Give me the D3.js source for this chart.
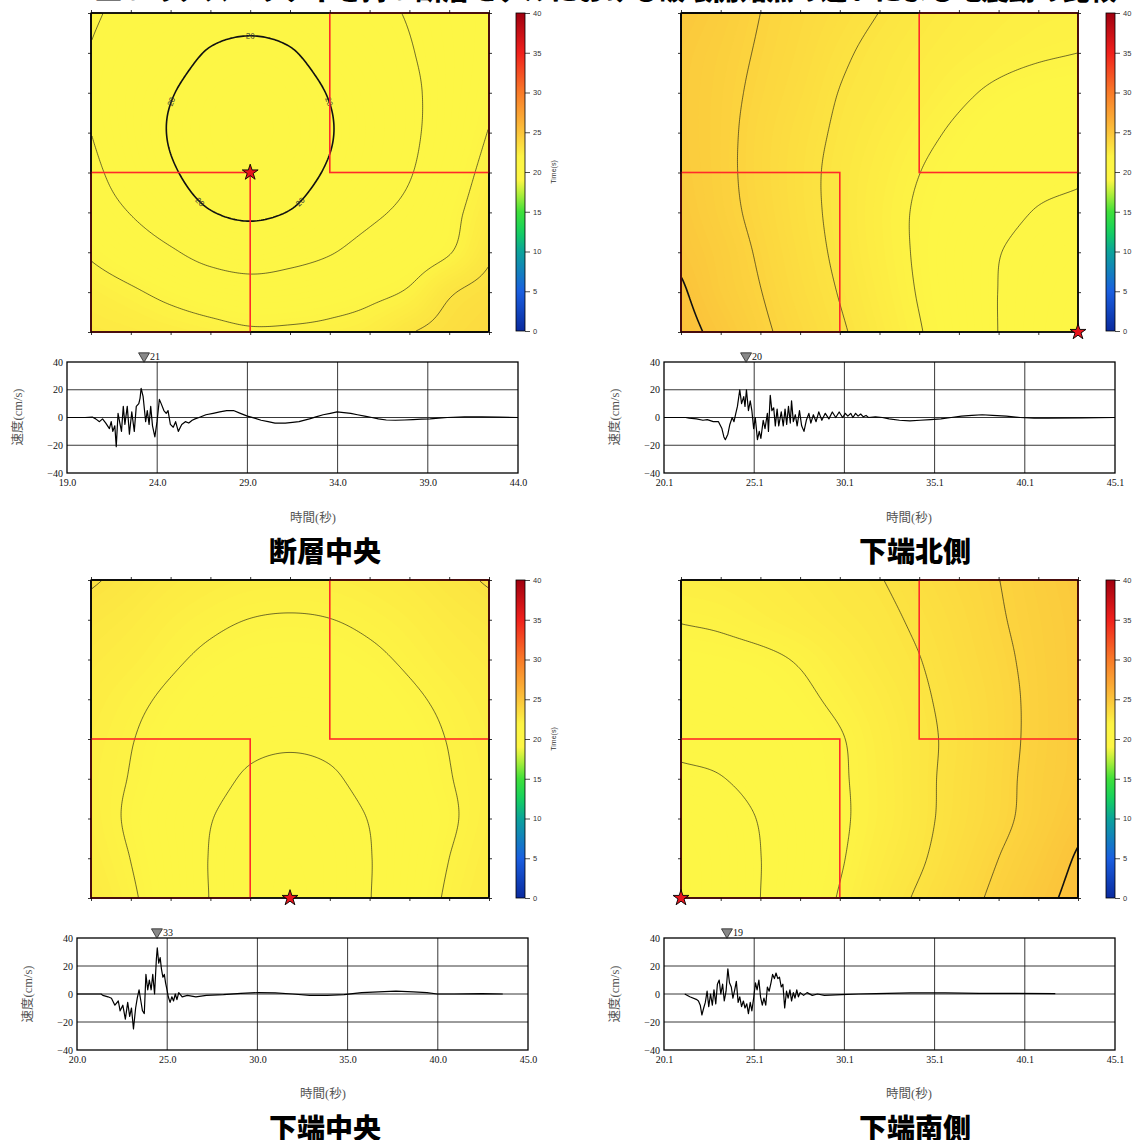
<!DOCTYPE html>
<html><head><meta charset="utf-8">
<script src="https://cdn.jsdelivr.net/npm/d3@7"></script>
<style>body{margin:0;background:#fff}svg{display:block}</style>
</head><body>
<script>
// ---------------- DATA ----------------
const pageTitle = "二つのアスペリティを持つ断層モデルにおける破壊開始点の違いによる地震動の比較";
const panelTitles = ["断層中央", "下端北側", "下端中央", "下端南側"];
const contourLevels = [20, 21, 22, 23, 24, 25];
const majorLevels = [20, 25];
const colorbarTicks = [0, 5, 10, 15, 20, 25, 30, 35, 40];
const colorStops = [0, 5, 10, 12.5, 15, 17.5, 19, 21.8, 25, 30, 35, 40];
const colorHex = ["#0a2a9e","#1a5fe0","#0ba39a","#14d15e","#3fe03a","#bdf03a","#fdf645","#fdf645","#fbc43b","#f97a28","#f0201c","#a00010"];
const hypocenters = [[4, 4], [10, 0], [5, 0], [0, 0]];       // fault grid units (x 0..10, y 0..8)
const asperities = [[0, 0, 4, 4], [6, 4, 10, 8]];
const labelledLevel = [20, null, null, null];

// rupture-time grids, rows from top (y=8) to bottom (y=0), columns x=0..10
const timeCenter = [
 [21.1, 20.8, 20.75, 20.45, 20.33, 20.45, 20.75, 20.85, 21.05, 21.4, 21.7],
 [20.97, 20.6, 20.38, 19.93, 19.78, 19.93, 20.38, 20.65, 20.95, 21.35, 21.75],
 [20.9, 20.45, 20.05, 19.6, 19.45, 19.6, 20.05, 20.5, 20.85, 21.35, 21.85],
 [21.0, 20.45, 19.95, 19.5, 19.35, 19.5, 19.95, 20.45, 20.85, 21.4, 22.03],
 [21.2, 20.6, 20.1, 19.65, 19.49, 19.65, 20.1, 20.55, 20.95, 21.55, 22.25],
 [21.45, 20.97, 20.48, 20.03, 19.88, 20.03, 20.48, 20.85, 21.2, 21.75, 22.5],
 [21.9, 21.5, 21.1, 20.7, 20.52, 20.7, 20.95, 21.29, 21.55, 21.95, 22.85],
 [22.35, 22.1, 21.8, 21.55, 21.4, 21.45, 21.6, 21.8, 22.1, 22.9, 23.3],
 [22.65, 22.55, 22.4, 22.25, 22.1, 22.12, 22.2, 22.4, 22.95, 23.3, 23.6]
];
const timeLowerNorth = [
 [24.75, 24.4, 24.0, 23.65, 23.32, 22.99, 22.7, 22.5, 22.35, 22.25, 22.2],
 [24.6, 24.28, 23.92, 23.55, 23.13, 22.8, 22.55, 22.35, 22.2, 22.08, 22.0],
 [24.55, 24.22, 23.83, 23.43, 22.98, 22.69, 22.4, 22.12, 21.88, 21.7, 21.6],
 [24.55, 24.2, 23.74, 23.3, 22.88, 22.53, 22.19, 21.88, 21.6, 21.4, 21.3],
 [24.6, 24.2, 23.72, 23.24, 22.8, 22.4, 22.01, 21.7, 21.45, 21.25, 21.12],
 [24.7, 24.25, 23.78, 23.26, 22.8, 22.33, 21.91, 21.59, 21.26, 20.95, 20.8],
 [24.85, 24.4, 23.9, 23.35, 22.85, 22.36, 21.9, 21.45, 21.03, 20.7, 20.5],
 [25.1, 24.5, 24.02, 23.47, 22.96, 22.45, 21.95, 21.47, 20.99, 20.6, 20.35],
 [25.3, 24.75, 24.17, 23.65, 23.11, 22.58, 22.05, 21.52, 20.99, 20.55, 20.3]
];
const timeLowerCenter = [
 [23.08, 22.8, 22.55, 22.38, 22.28, 22.25, 22.28, 22.38, 22.55, 22.8, 23.07],
 [22.75, 22.55, 22.3, 22.12, 21.99, 21.95, 21.99, 22.12, 22.3, 22.55, 22.75],
 [22.55, 22.35, 22.1, 21.87, 21.72, 21.68, 21.72, 21.87, 22.1, 22.35, 22.55],
 [22.4, 22.15, 21.88, 21.6, 21.43, 21.38, 21.43, 21.6, 21.88, 22.15, 22.4],
 [22.3, 22.03, 21.7, 21.4, 21.18, 21.1, 21.18, 21.4, 21.7, 22.03, 22.3],
 [22.25, 21.97, 21.6, 21.25, 20.9, 20.8, 20.9, 21.25, 21.6, 21.97, 22.25],
 [22.3, 21.9, 21.45, 21.03, 20.65, 20.5, 20.65, 21.03, 21.45, 21.9, 22.3],
 [22.4, 21.99, 21.5, 20.97, 20.55, 20.4, 20.55, 20.97, 21.5, 22.0, 22.4],
 [22.55, 22.1, 21.55, 20.98, 20.55, 20.35, 20.55, 20.98, 21.55, 22.1, 22.5]
];
const timeLowerSouth = [
 [22.3, 22.35, 22.45, 22.6, 22.78, 22.97, 23.3, 23.65, 23.99, 24.35, 24.7],
 [22.03, 22.1, 22.25, 22.42, 22.62, 22.82, 23.13, 23.51, 23.92, 24.28, 24.62],
 [21.72, 21.78, 21.87, 22.06, 22.37, 22.68, 22.98, 23.4, 23.82, 24.23, 24.6],
 [21.45, 21.52, 21.65, 21.85, 22.15, 22.5, 22.87, 23.28, 23.74, 24.2, 24.6],
 [21.18, 21.25, 21.42, 21.67, 21.95, 22.37, 22.8, 23.22, 23.73, 24.2, 24.6],
 [20.85, 20.97, 21.28, 21.6, 21.91, 22.33, 22.8, 23.26, 23.76, 24.25, 24.62],
 [20.4, 20.6, 21.05, 21.46, 21.88, 22.33, 22.8, 23.3, 23.8, 24.3, 24.8],
 [20.15, 20.5, 20.99, 21.45, 21.93, 22.45, 22.9, 23.45, 24.0, 24.5, 25.08],
 [20.1, 20.5, 21.0, 21.53, 22.05, 22.6, 23.11, 23.65, 24.2, 24.72, 25.28]
];

// velocity waveforms [time (s), velocity (cm/s)]
const waveCenter = [[19.0,0],[20.0,0],[20.4,0.3],[20.59,-1],[20.8,-3],[20.97,-1],[21.15,-4],[21.35,-8],[21.45,-3],[21.54,-10],[21.65,-6],[21.73,-21],[21.83,3],[21.93,-4],[22.02,-10],[22.12,8],[22.21,-5],[22.34,8],[22.46,-12],[22.59,4],[22.73,-10],[22.84,8],[22.98,10],[23.05,14],[23.11,21],[23.22,15],[23.36,-3],[23.45,5],[23.55,-5],[23.64,8],[23.74,-6],[23.87,-14],[23.99,-3],[24.12,13],[24.22,10],[24.37,5],[24.5,3],[24.6,5],[24.73,-5],[24.89,-7],[25.02,-3],[25.17,-10],[25.36,-5],[25.56,-3],[25.75,-4],[25.94,-2],[26.1,-1],[26.32,0],[26.7,2],[27.1,3],[27.47,4],[27.85,5],[28.23,5],[28.61,3],[29.0,1],[29.4,-0.5],[29.76,-2],[30.15,-3],[30.53,-4],[31.1,-4],[31.5,-3.5],[31.86,-3],[32.44,-1],[32.8,0.5],[33.2,2],[33.6,3],[33.97,4],[34.35,3.5],[34.73,3],[35.1,2],[35.5,1],[35.9,0],[36.26,-1],[36.7,-1.8],[37.21,-2],[37.7,-1.8],[38.17,-1.5],[38.65,-1.2],[39.13,-1],[39.6,-0.5],[40.08,0],[41.04,0.5],[41.99,0.5],[42.95,0.3],[44.0,0]];
const waveLowerNorth = [[20.1,0],[21.3,0],[21.5,-0.5],[21.9,-1],[22.26,-2],[22.5,-1.5],[22.83,-3],[23.12,-3],[23.31,-8],[23.42,-14],[23.5,-16],[23.64,-12],[23.75,-5],[23.88,0],[23.98,-3],[24.08,3],[24.17,8],[24.3,20],[24.4,10],[24.52,15],[24.59,8],[24.67,20],[24.78,5],[24.88,12],[24.97,5],[25.07,-8],[25.16,0],[25.28,-16],[25.38,-10],[25.47,-15],[25.6,-2],[25.7,-8],[25.83,3],[25.89,-10],[25.99,16],[26.08,5],[26.18,7],[26.27,-6],[26.37,6],[26.46,-6],[26.6,4],[26.71,-6],[26.81,6],[26.9,-5],[27.0,8],[27.1,-4],[27.17,12],[27.27,-3],[27.38,2],[27.48,-6],[27.61,5],[27.73,-6],[27.86,-10],[27.99,-2],[28.13,3],[28.24,-4],[28.38,2],[28.53,-3],[28.68,4],[28.85,-2],[29.04,3],[29.24,-1],[29.43,4],[29.62,0],[29.81,4],[30.0,0],[30.15,3],[30.29,1],[30.45,3],[30.57,0],[30.72,3],[30.86,1],[31.0,2.5],[31.15,0.5],[31.3,1.5],[31.43,0],[31.82,0.5],[32.2,0],[32.58,-1],[33.15,-2],[33.73,-2.5],[34.3,-2],[34.87,-1.5],[35.45,-1],[36.02,0],[36.59,1],[37.17,1.5],[37.74,2],[38.31,1.5],[39.08,1],[39.84,0],[40.61,-0.5],[41.37,-0.5],[43.28,-0.3],[45.1,0]];
const waveLowerCenter = [[20.0,0],[21.34,0],[21.43,-1],[21.72,-2],[21.91,-3],[22.1,-8],[22.29,-5],[22.39,-12],[22.54,-8],[22.68,-18],[22.81,-6],[22.92,-16],[23.02,-10],[23.13,-25],[23.25,-10],[23.34,-3],[23.44,3],[23.54,-5],[23.63,-12],[23.73,-14],[23.82,14],[23.92,3],[24.01,10],[24.11,3],[24.2,14],[24.3,0],[24.4,25],[24.45,33],[24.53,22],[24.61,26],[24.68,18],[24.76,12],[24.84,14],[24.91,8],[24.99,3],[25.06,-2],[25.16,-6],[25.26,-2],[25.35,-5],[25.45,0],[25.54,-4],[25.64,1],[25.83,-2],[26.12,-1],[26.59,-2],[27.17,-1],[28.12,-0.5],[29.08,0.5],[30.03,1],[30.99,0.8],[31.95,0],[32.9,-1],[33.86,-1],[34.81,-0.5],[35.77,1],[36.72,1.5],[37.68,2],[38.64,1.5],[39.4,1],[39.97,0],[40.93,0],[42.46,0.3],[43.6,0]];
const waveLowerSouth = [[21.25,0],[21.53,-2],[21.92,-4],[22.01,-5],[22.11,-8],[22.2,-15],[22.3,-10],[22.39,-6],[22.49,2],[22.58,-9],[22.68,0],[22.78,-8],[22.87,3],[22.97,-7],[23.06,7],[23.16,10],[23.25,0],[23.35,7],[23.44,-5],[23.54,2],[23.64,18],[23.73,8],[23.83,5],[23.92,-3],[24.02,3],[24.11,9],[24.21,-6],[24.3,-2],[24.4,-9],[24.5,-5],[24.59,-10],[24.69,-7],[24.78,-14],[24.88,-6],[24.97,-12],[25.07,-3],[25.17,8],[25.26,3],[25.36,10],[25.45,-2],[25.55,-8],[25.64,-3],[25.74,-8],[25.83,5],[25.93,2],[26.03,8],[26.12,14],[26.22,11],[26.31,15],[26.41,11],[26.5,12],[26.6,5],[26.69,7],[26.79,-10],[26.89,2],[26.98,-3],[27.08,3],[27.17,-5],[27.27,1],[27.36,-3],[27.46,3],[27.55,-2],[27.65,1],[27.84,-1],[28.03,1],[28.32,-1],[28.61,0],[28.99,-1],[29.94,-0.5],[30.9,0],[31.85,0.3],[33.77,0.8],[35.68,0.8],[37.59,0.5],[39.5,0.4],[41.79,0.3]];

const axisStart = [19.0, 20.1, 20.0, 20.1];
const velTicks = [-40, -20, 0, 20, 40];
const peakValues = [21, 20, 33, 19];
const peakTimes = [23.27, 24.65, 24.43, 23.59];

const fields = [timeCenter, timeLowerNorth, timeLowerCenter, timeLowerSouth];
const waves = [waveCenter, waveLowerNorth, waveLowerCenter, waveLowerSouth];

// ---------------- LAYOUT ----------------
const layout = [
  {map:[91,13,398,319],  cb:[516,13,9,318],  seis:[67,362,451,111],  ylab:[18,417],  xlab:[313,522], title:[325,562]},
  {map:[681,13,397,319], cb:[1106,13,9,318], seis:[664,362,451,111], ylab:[615,417], xlab:[909,522], title:[915,562]},
  {map:[91,580,398,318], cb:[516,580,9,318], seis:[77,938,451,112],  ylab:[28,994],  xlab:[323,1098], title:[325,1139]},
  {map:[681,580,397,318],cb:[1106,580,9,318],seis:[664,938,451,112], ylab:[615,994], xlab:[909,1098], title:[915,1139]}
];
const serif = "'Liberation Serif','Noto Sans CJK JP',serif";
const sans = "'Liberation Sans',Arial,sans-serif";
const cjk = "'Noto Sans CJK JP',sans-serif";

const color = d3.scaleLinear().domain(colorStops).range(colorHex).interpolate(d3.interpolateRgb).clamp(true);

const svg = d3.select("body").append("svg").attr("width",1140).attr("height",1140);
const defs = svg.append("defs");

svg.append("text").attr("x",95).attr("y",0).attr("font-family",cjk).attr("font-weight",900)
  .attr("font-size",27).attr("fill","#000").text(pageTitle);

function cr(p0,p1,p2,p3,t){return p1+0.5*t*(p2-p0+t*(2*p0-5*p1+4*p2-p3+t*(3*(p1-p2)+p3-p0)));}
function at(G,i,j){
  if(i<0) return 2*at(G,0,j)-at(G,1,j);
  if(i>10) return 2*at(G,10,j)-at(G,9,j);
  if(j<0) return 2*at(G,i,0)-at(G,i,1);
  if(j>8) return 2*at(G,i,8)-at(G,i,7);
  return G[j][i];
}
function bicubic(G,u,r){
  const ix=Math.min(Math.floor(u),9), iy=Math.min(Math.floor(r),7);
  const tx=u-ix, ty=r-iy;
  const rv=[];
  for(let m=-1;m<=2;m++) rv.push(cr(at(G,ix-1,iy+m),at(G,ix,iy+m),at(G,ix+1,iy+m),at(G,ix+2,iy+m),tx));
  return cr(rv[0],rv[1],rv[2],rv[3],ty);
}

const grad = defs.append("linearGradient").attr("id","cbgrad").attr("x1",0).attr("y1",1).attr("x2",0).attr("y2",0);
d3.range(0,40.01,1).forEach(v=>grad.append("stop").attr("offset",v/40).attr("stop-color",color(v)));

function drawMap(p){
  const [x0,y0,w,h]=layout[p].map;
  const G=fields[p];
  const g=svg.append("g");
  const nx=200, ny=160;
  const vals=new Float64Array(nx*ny);
  for(let k=0;k<ny;k++) for(let i=0;i<nx;i++) vals[k*nx+i]=bicubic(G,(i+0.5)/nx*10,(k+0.5)/ny*8);
  const fx=x=>x0+x*w/nx, fy=y=>y0+y*h/ny;
  const proj=d3.geoTransform({point(x,y){this.stream.point(fx(x), fy(y));}});
  const path=d3.geoPath(proj);
  const ext=d3.extent(vals);
  g.append("rect").attr("x",x0).attr("y",y0).attr("width",w).attr("height",h).attr("fill",color(ext[0]));
  const thr=d3.range(Math.floor(ext[0]*10)/10+0.1, ext[1], 0.1);
  const bands=d3.contours().size([nx,ny]).thresholds(thr)(vals);
  g.append("g").selectAll("path").data(bands).join("path").attr("d",path).attr("fill",d=>color(d.value+0.05));
  const lines=d3.contours().size([nx,ny]).thresholds(contourLevels)(vals);
  g.append("g").selectAll("path").data(lines).join("path").attr("d",path).attr("fill","none")
    .attr("stroke","#111").attr("stroke-width",d=>majorLevels.includes(d.value)?1.6:0.6);
  if(labelledLevel[p]!==null){
    const cont=lines.find(d=>d.value===labelledLevel[p]);
    const rings=[];
    cont.coordinates.forEach(poly=>poly.forEach(ring=>{
      const inside=ring.every(([x,y])=>x>0.01&&x<nx-0.01&&y>0.01&&y<ny-0.01);
      if(inside) rings.push(ring);
    }));
    rings.forEach(ring=>{
      const rp=g.append("path").attr("d",d3.line().x(d=>fx(d[0])).y(d=>fy(d[1]))(ring)).attr("fill","none").attr("stroke","none");
      const node=rp.node();
      const L=node.getTotalLength();
      let best=0,by=1e9;
      for(let s=0;s<400;s++){const q=node.getPointAtLength(s*L/400); if(q.y<by){by=q.y;best=s*L/400;}}
      for(let k=0;k<5;k++){
        const len=(best+k*L/5)%L;
        const a=node.getPointAtLength(len), b=node.getPointAtLength((len+2)%L);
        let ang=Math.atan2(b.y-a.y,b.x-a.x)*180/Math.PI;
        if(ang>90) ang-=180; if(ang<-90) ang+=180;
        g.append("text").attr("transform",`translate(${a.x},${a.y}) rotate(${ang})`)
          .attr("text-anchor","middle").attr("dy","0.35em").attr("font-family",sans).attr("font-size",8)
          .attr("fill","#333").text(labelledLevel[p]);
      }
    });
  }
  const sx=d3.scaleLinear([0,10],[x0,x0+w]), sy=d3.scaleLinear([0,8],[y0+h,y0]);
  g.append("g").selectAll("rect").data(asperities).join("rect")
    .attr("x",d=>sx(d[0])).attr("y",d=>sy(d[3])).attr("width",d=>sx(d[2])-sx(d[0])).attr("height",d=>sy(d[1])-sy(d[3]))
    .attr("fill","none").attr("stroke","#ff2a2a").attr("stroke-width",1.6);
  g.append("rect").attr("x",x0).attr("y",y0).attr("width",w).attr("height",h).attr("fill","none").attr("stroke","#000").attr("stroke-width",1.3);
  const tk=(ax)=>ax.tickSize(3).tickFormat("");
  const axes=[
    [d3.axisTop(sx).tickValues(d3.range(11)),`translate(0,${y0})`],
    [d3.axisBottom(sx).tickValues(d3.range(11)),`translate(0,${y0+h})`],
    [d3.axisLeft(sy).tickValues(d3.range(9)),`translate(${x0},0)`],
    [d3.axisRight(sy).tickValues(d3.range(9)),`translate(${x0+w},0)`]
  ];
  axes.forEach(([ax,tr])=>{const a=g.append("g").attr("transform",tr).call(tk(ax)); a.select(".domain").remove(); a.selectAll("line").attr("stroke","#000").attr("stroke-width",0.8);});
  g.append("path").attr("d",d3.symbol(d3.symbolStar,78)()).attr("transform",`translate(${sx(hypocenters[p][0])},${sy(hypocenters[p][1])})`)
    .attr("fill","#e8141c").attr("stroke","#000").attr("stroke-width",0.9);
}

function drawColorbar(p){
  const [x0,y0,w,h]=layout[p].cb;
  const g=svg.append("g");
  g.append("rect").attr("x",x0).attr("y",y0).attr("width",w).attr("height",h).attr("fill","url(#cbgrad)").attr("stroke","#000").attr("stroke-width",0.8);
  const s=d3.scaleLinear([0,40],[y0+h,y0]);
  const a=g.append("g").attr("transform",`translate(${x0+w},0)`).call(d3.axisRight(s).tickValues(colorbarTicks).tickSize(5).tickPadding(3));
  a.select(".domain").remove();
  a.selectAll("line").attr("stroke","#000").attr("stroke-width",0.7);
  a.selectAll("text").attr("font-family",sans).attr("font-size",7.5).attr("fill","#333");
  g.append("text").attr("transform",`translate(${x0+40},${y0+h/2}) rotate(-90)`).attr("text-anchor","middle")
    .attr("font-family",sans).attr("font-size",7).attr("fill","#333").text("Time(s)");
}

function drawSeis(p){
  const [x0,y0,w,h]=layout[p].seis;
  const st=axisStart[p];
  const g=svg.append("g");
  const x=d3.scaleLinear([st,st+25],[x0,x0+w]);
  const y=d3.scaleLinear([-40,40],[y0+h,y0]);
  const xt=d3.range(6).map(k=>+(st+5*k).toFixed(1));
  g.append("g").selectAll("line").data(xt.slice(1,-1)).join("line")
    .attr("x1",d=>x(d)).attr("x2",d=>x(d)).attr("y1",y0).attr("y2",y0+h).attr("stroke","#222").attr("stroke-width",0.9);
  g.append("g").selectAll("line").data([-20,0,20]).join("line")
    .attr("x1",x0).attr("x2",x0+w).attr("y1",d=>y(d)).attr("y2",d=>y(d)).attr("stroke","#222").attr("stroke-width",0.9);
  g.append("path").datum(waves[p]).attr("d",d3.line().x(d=>x(d[0])).y(d=>y(d[1])))
    .attr("fill","none").attr("stroke","#000").attr("stroke-width",1.2).attr("stroke-linejoin","round");
  g.append("rect").attr("x",x0).attr("y",y0).attr("width",w).attr("height",h).attr("fill","none").attr("stroke","#000").attr("stroke-width",1.3);
  const ax=g.append("g").attr("transform",`translate(0,${y0+h})`).call(d3.axisBottom(x).tickValues(xt).tickFormat(d3.format(".1f")).tickSize(0).tickPadding(6));
  ax.select(".domain").remove();
  ax.selectAll("text").attr("font-family",serif).attr("font-size",10).attr("fill","#111");
  const ay=g.append("g").attr("transform",`translate(${x0},0)`).call(d3.axisLeft(y).tickValues(velTicks).tickSize(0).tickPadding(4));
  ay.select(".domain").remove();
  ay.selectAll("text").attr("font-family",serif).attr("font-size",10).attr("fill","#111");
  const px=x(peakTimes[p]);
  g.append("path").attr("d",d3.symbol(d3.symbolTriangle,52)()).attr("transform",`translate(${px},${y0-6}) rotate(180)`)
    .attr("fill","#888").attr("stroke","#222").attr("stroke-width",0.8);
  g.append("text").attr("x",px+6).attr("y",y0-2).attr("font-family",serif).attr("font-size",10).attr("fill","#111").text(peakValues[p]);
  const [lx,ly]=layout[p].ylab;
  g.append("text").attr("transform",`translate(${lx},${ly}) rotate(-90)`).attr("text-anchor","middle").attr("dy","0.35em")
    .attr("font-family",serif).attr("font-size",12.5).attr("fill","#555").text("速度(cm/s)");
  const [tx,ty]=layout[p].xlab;
  g.append("text").attr("x",tx).attr("y",ty).attr("text-anchor","middle")
    .attr("font-family",serif).attr("font-size",12.5).attr("fill","#555").text("時間(秒)");
  const [ttx,tty]=layout[p].title;
  g.append("text").attr("x",ttx).attr("y",tty).attr("text-anchor","middle")
    .attr("font-family",cjk).attr("font-weight",900).attr("font-size",28).attr("fill","#000").text(panelTitles[p]);
}

for(let p=0;p<4;p++){drawMap(p);drawColorbar(p);drawSeis(p);}
</script>
</body></html>
